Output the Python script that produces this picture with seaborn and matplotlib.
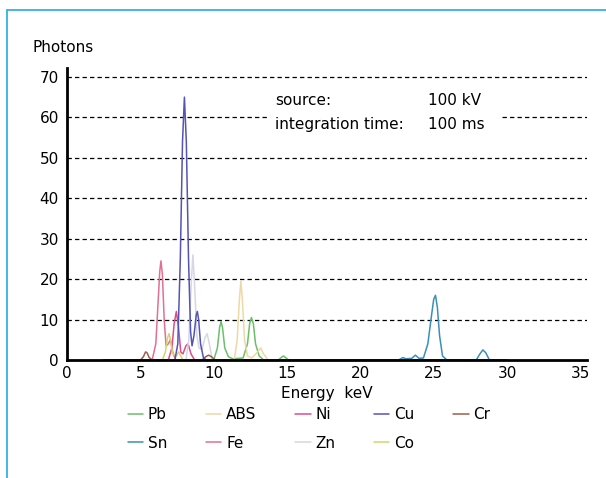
import matplotlib
matplotlib.use("Agg")
import matplotlib.pyplot as plt
from matplotlib.lines import Line2D
from matplotlib.patches import Rectangle
import seaborn as sns
import pandas as pd

# ---- data (energy keV, photons) ----
pb_x = [2.5, 10.0, 10.25, 10.4, 10.5, 10.6, 10.75, 11.0, 11.3, 12.0, 12.3, 12.45, 12.57, 12.7, 12.85, 13.1, 13.4, 14.4, 14.6, 14.75, 14.9, 15.1, 30]
pb_y = [0, 0, 3, 8, 9.5, 8, 3, 0.8, 0.3, 0.5, 4, 9, 10.5, 9, 4, 1, 0, 0, 0.6, 1, 0.6, 0, 0]

abs_x = [2.5, 11.4, 11.6, 11.75, 11.85, 11.95, 12.1, 12.3, 12.6, 13.0, 13.2, 13.4, 13.7, 30]
abs_y = [0, 0, 5, 15, 19.5, 15, 5, 1, 0.5, 2, 3, 1.5, 0, 0]

ni_x = [2.5, 6.9, 7.15, 7.3, 7.45, 7.6, 7.75, 7.9, 8.1, 8.25, 8.45, 8.7, 30]
ni_y = [0, 0, 3, 9, 12, 8, 2, 1.5, 3.5, 4, 1.5, 0, 0]

cu_x = [2.5, 7.35, 7.55, 7.72, 7.87, 8.0, 8.13, 8.28, 8.42, 8.52, 8.65, 8.8, 8.88, 8.97, 9.1, 9.3, 9.5, 30]
cu_y = [0, 0, 4, 25, 54, 65, 54, 25, 7, 3.5, 6, 11, 12, 10, 4, 0.5, 0, 0]

cr_x = [2.5, 5.0, 5.2, 5.35, 5.45, 5.6, 5.8, 9.2, 9.45, 9.65, 9.85, 10.1, 30]
cr_y = [0, 0, 0.8, 2, 1.8, 0.6, 0, 0, 0.8, 1.2, 0.8, 0, 0]

sn_x = [2.5, 22.6, 22.9, 23.1, 23.5, 23.75, 24.0, 24.3, 24.6, 24.85, 25.0, 25.12, 25.25, 25.4, 25.6, 25.9, 27.9, 28.15, 28.35, 28.55, 28.8, 30]
sn_y = [0, 0, 0.6, 0.3, 0.4, 1.2, 0.4, 0.5, 4, 11, 15, 16, 13, 6, 1, 0, 0, 1.5, 2.5, 1.8, 0, 0]

fe_x = [2.5, 5.8, 6.05, 6.2, 6.32, 6.4, 6.5, 6.62, 6.75, 6.9, 7.05, 7.2, 7.4, 30]
fe_y = [0, 0, 4, 14, 22, 24.5, 21, 10, 3.5, 4, 5, 2, 0, 0]

zn_x = [2.5, 8.1, 8.3, 8.45, 8.58, 8.7, 8.85, 9.0, 9.2, 9.4, 9.55, 9.7, 9.9, 30]
zn_y = [0, 0, 5, 18, 26, 18, 6, 3, 2.5, 5.5, 6.5, 4, 0, 0]

co_x = [2.5, 6.5, 6.7, 6.85, 6.95, 7.05, 7.2, 7.45, 7.6, 7.75, 7.9, 30]
co_y = [0, 0, 2, 5.5, 6.5, 5, 1.5, 1, 2, 1, 0, 0]

legend_order = ["Pb", "Sn", "ABS", "Fe", "Ni", "Zn", "Cu", "Co", "Cr"]
x_ticks = [0, 5, 10, 15, 20, 25, 30, 35]
y_ticks = [0, 10, 20, 30, 40, 50, 60, 70]
info_labels = ["source:", "integration time:"]
info_values = ["100 kV", "100 ms"]

series = {
    "Pb": (pb_x, pb_y), "ABS": (abs_x, abs_y), "Ni": (ni_x, ni_y),
    "Cu": (cu_x, cu_y), "Cr": (cr_x, cr_y), "Sn": (sn_x, sn_y),
    "Fe": (fe_x, fe_y), "Zn": (zn_x, zn_y), "Co": (co_x, co_y),
}
rows = []
for name, (xs, ys) in series.items():
    for xv, yv in zip(xs, ys):
        rows.append({"element": name, "energy": xv, "photons": yv})
df = pd.DataFrame(rows)

palette = {
    "Pb": "#6cbf6a", "ABS": "#ecd9a6", "Ni": "#d94f8c", "Cu": "#5454b6",
    "Cr": "#9a5f4e", "Sn": "#3b8fb8", "Fe": "#e36f93", "Zn": "#d6d6e4",
    "Co": "#d8d36e",
}

sns.set_style("white")
plt.rcParams["font.family"] = ["DejaVu Sans"]
plt.rcParams["text.color"] = "black"
plt.rcParams["axes.labelcolor"] = "black"
FS = 11

fig = plt.figure(figsize=(6.06, 4.78), dpi=100)
ax = fig.add_axes([67.1 / 606, 118 / 478, 520 / 606, 292 / 478])

draw_order = ["Pb", "Sn", "ABS", "Fe", "Ni", "Zn", "Co", "Cr", "Cu"]
sns.lineplot(data=df, x="energy", y="photons", hue="element", hue_order=draw_order,
             palette=palette, linewidth=1.1, ax=ax, sort=True, estimator=None, legend=True)
handles, labels = ax.get_legend_handles_labels()
hmap = dict(zip(labels, handles))
ax.get_legend().remove()

ax.set_xlim(0, 35.46)
ax.set_ylim(0, 72.2)
ax.set_xticks(x_ticks)
ax.set_yticks(y_ticks)
ax.set_xticklabels([str(t) for t in x_ticks])
ax.set_yticklabels([str(t) for t in y_ticks])

for yv in y_ticks[1:]:
    ax.axhline(yv, color="black", linewidth=0.9, linestyle=(0, (3.5, 2.5)), zorder=1)

for side in ["top", "right"]:
    ax.spines[side].set_visible(False)
for side in ["left", "bottom"]:
    ax.spines[side].set_linewidth(2.0)
    ax.spines[side].set_color("black")
    ax.spines[side].set_zorder(5)
ax.tick_params(axis="both", direction="inout", length=8, width=1.6, labelsize=FS,
               colors="black", labelcolor="black", pad=2)
ax.tick_params(axis="x", pad=0.5)
ax.set_xlabel("Energy  keV", fontsize=FS, labelpad=3.5, color="black")
ax.set_ylabel("")

# info box
ax.add_patch(Rectangle((0.386, 0.764), 0.447, 0.161, transform=ax.transAxes,
                       facecolor="white", edgecolor="none", zorder=3))
ax.text(0.400, 0.890, info_labels[0], transform=ax.transAxes, fontsize=FS, va="center", zorder=4)
ax.text(0.400, 0.808, info_labels[1], transform=ax.transAxes, fontsize=FS, va="center", zorder=4)
ax.text(0.694, 0.890, info_values[0], transform=ax.transAxes, fontsize=FS, va="center", zorder=4)
ax.text(0.694, 0.808, info_values[1], transform=ax.transAxes, fontsize=FS, va="center", zorder=4)

fig.text(33 / 606, 1 - 48 / 478, "Photons", fontsize=FS, va="center", ha="left")

fig.legend([hmap[k] for k in legend_order], legend_order, ncol=5, loc="upper left",
           bbox_to_anchor=(128 / 606, 1 - 407 / 478), frameon=False, fontsize=FS,
           handlelength=1.0, handletextpad=0.3, columnspacing=2.55, labelspacing=0.9,
           borderpad=0, borderaxespad=0, labelcolor="black")

# light blue frame
fig.add_artist(Line2D([7.3 / 606, 7.3 / 606], [0, 1 - 10 / 478], transform=fig.transFigure,
                      color="#36b0e6", linewidth=1.3))
fig.add_artist(Line2D([7.3 / 606, 1], [1 - 10 / 478, 1 - 10 / 478], transform=fig.transFigure,
                      color="#36b0e6", linewidth=1.3))

fig.savefig("out.png", dpi=100)
